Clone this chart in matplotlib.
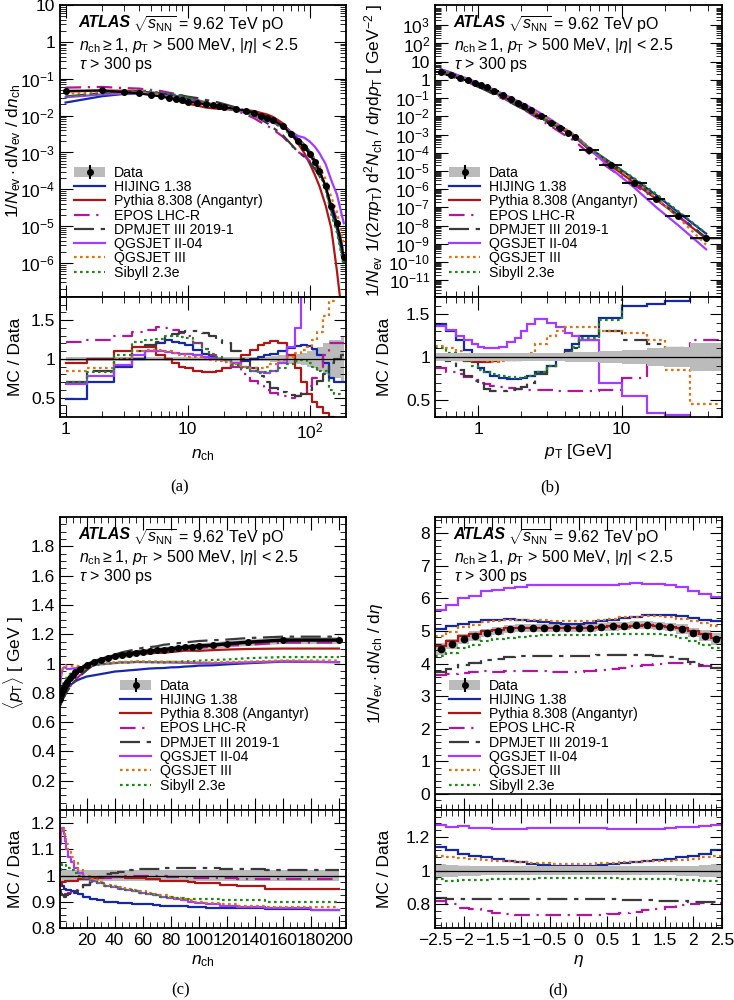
import numpy as np
import matplotlib
matplotlib.use("Agg")
import matplotlib.pyplot as plt
from matplotlib.ticker import FuncFormatter, FixedLocator, AutoMinorLocator, LogLocator, NullFormatter

plt.rcParams['font.family'] = ['Liberation Sans', 'DejaVu Sans']
plt.rcParams['mathtext.fontset'] = 'custom'
plt.rcParams['mathtext.rm'] = 'Liberation Sans'
plt.rcParams['mathtext.it'] = 'Liberation Sans:italic'
plt.rcParams['mathtext.bf'] = 'Liberation Sans:bold'

models = ['HIJING 1.38', 'Pythia 8.308 (Angantyr)', 'EPOS LHC-R', 'DPMJET III 2019-1',
          'QGSJET II-04', 'QGSJET III', 'Sibyll 2.3e']
colors = ['#1428a8', '#b01515', '#b0179e', '#3a3a3a', '#a23cff', '#e0720f', '#1b8a1b']
styles = ['-', '-', (0, (7, 3, 1, 3)), (0, (9, 3, 2, 3)), '-', (0, (1.2, 1.5)), (0, (1.2, 1.5))]

# ---- (a) multiplicity ----
nch_a = [1, 2, 3, 4, 5, 6, 7, 8, 9, 10, 12, 14, 16, 18, 20, 25, 30, 35, 40, 45, 50, 60, 70, 80,
         90, 100, 110, 120, 135, 150, 167, 190]
data_a = [0.047, 0.048, 0.043, 0.040, 0.036, 0.033, 0.030, 0.028, 0.026, 0.024, 0.022, 0.020,
          0.019, 0.018, 0.017, 0.015, 0.0135, 0.0118, 0.010, 0.0088, 0.0075, 0.0052, 0.0032,
          0.0020, 0.0014, 0.0009, 0.00055, 0.00032, 0.00012, 3.5e-5, 1.2e-5, 1.5e-6]
err_a = [0.03] * 20 + [0.04, 0.05, 0.06, 0.07, 0.08, 0.1, 0.12, 0.15, 0.2, 0.25, 0.25, 0.3]
ratio_a = [
    [0.48, 0.7, 0.9, 1.0, 1.1, 1.2, 1.25, 1.22, 1.2, 1.18, 1.12, 1.07, 1.03, 1.0, 0.98, 0.95, 0.97,
     1.0, 1.03, 1.05, 1.07, 1.1, 1.14, 1.17, 1.18, 1.17, 1.13, 1.05, 0.95, 0.75, 0.7, 0.7],
    [0.95, 1.0, 1.1, 1.15, 1.15, 1.05, 1.0, 0.95, 0.9, 0.88, 0.85, 0.83, 0.83, 0.85, 0.88, 0.95,
     1.05, 1.12, 1.18, 1.21, 1.23, 1.2, 1.05, 0.88, 0.7, 0.55, 0.45, 0.38, 0.3, 0.25, 0.05, 0.01],
    [1.22, 1.25, 1.3, 1.35, 1.38, 1.41, 1.4, 1.38, 1.33, 1.3, 1.2, 1.13, 1.05, 1.0, 0.96, 0.9, 0.8,
     0.72, 0.65, 0.6, 0.56, 0.52, 0.5, 0.52, 0.58, 0.65, 0.75, 0.9, 1.05, 1.2, 1.2, 1.2],
    [0.7, 0.85, 1.0, 1.1, 1.18, 1.22, 1.28, 1.32, 1.35, 1.36, 1.36, 1.33, 1.3, 1.25, 1.2, 1.1, 1.0,
     0.88, 0.78, 0.7, 0.63, 0.57, 0.53, 0.52, 0.55, 0.6, 0.65, 0.72, 0.8, 0.95, 1.0, 1.05],
    [0.67, 0.78, 0.92, 1.05, 1.1, 1.1, 1.09, 1.08, 1.07, 1.06, 1.05, 1.03, 1.01, 1.0, 0.98, 0.95,
     0.9, 0.85, 0.83, 0.82, 0.85, 0.95, 1.15, 1.4, 1.8, 2.2, 2.6, 3.0, 4.0, 5.0, 6.0, 8.0],
    [0.85, 0.88, 1.0, 1.1, 1.12, 1.12, 1.1, 1.08, 1.05, 1.03, 1.02, 1.0, 0.98, 0.97, 0.96, 0.93,
     0.9, 0.88, 0.88, 0.9, 0.93, 0.98, 1.03, 1.08, 1.12, 1.15, 1.25, 1.35, 1.55, 1.75, 2.0, 2.2],
    [0.7, 0.83, 1.05, 1.22, 1.25, 1.26, 1.3, 1.3, 1.28, 1.27, 1.2, 1.13, 1.07, 1.02, 0.98, 0.92,
     0.88, 0.84, 0.82, 0.83, 0.85, 0.88, 0.93, 0.97, 0.98, 0.95, 0.9, 0.85, 0.85, 0.6, 0.55, 0.55],
]

# ---- (b) pT spectrum ----
pt_edges = [0.5, 0.6, 0.7, 0.8, 0.9, 1.0, 1.1, 1.2, 1.4, 1.6, 1.8, 2.0, 2.2, 2.5, 3.0, 3.5, 4.0,
            4.5, 5.0, 7.0, 10, 15, 20, 30, 50]
data_b = [2.8, 1.9, 1.3, 0.95, 0.7, 0.52, 0.4, 0.26, 0.15, 0.09, 0.055, 0.036, 0.021, 0.010,
          0.0045, 0.0022, 0.0012, 0.0007, 1.5e-4, 2.0e-5, 2.2e-6, 3e-7, 3.5e-8, 2e-9]
err_b = [0.05] * 12 + [0.05, 0.05, 0.05, 0.05, 0.06, 0.06, 0.06, 0.07, 0.08, 0.1, 0.12, 0.16]
ratio_b = [
    [1.38, 1.3, 1.2, 1.08, 0.95, 0.87, 0.82, 0.78, 0.75, 0.74, 0.74, 0.75, 0.78, 0.82, 0.9, 1.0,
     1.08, 1.15, 1.25, 1.45, 1.6, 1.62, 1.65, 1.8],
    [1.0, 0.98, 0.96, 0.95, 0.94, 0.94, 0.94, 0.95, 0.96, 0.97, 0.97, 0.98, 0.98, 0.99, 0.99, 1.0,
     1.0, 1.0, 1.01, 1.0, 1.01, 0.99, 0.97, 0.96],
    [0.87, 0.83, 0.8, 0.77, 0.73, 0.7, 0.68, 0.66, 0.65, 0.64, 0.63, 0.63, 0.62, 0.62, 0.61, 0.6,
     0.6, 0.6, 0.6, 0.62, 0.75, 0.95, 1.0, 1.2],
    [1.0, 0.95, 0.85, 0.78, 0.72, 0.68, 0.63, 0.6, 0.6, 0.62, 0.63, 0.65, 0.7, 0.8, 0.9, 1.0, 1.06,
     1.1, 1.2, 1.3, 1.2, 1.15, 1.1, 1.08],
    [1.36, 1.32, 1.25, 1.2, 1.15, 1.12, 1.1, 1.1, 1.12, 1.17, 1.22, 1.3, 1.38, 1.44, 1.4, 1.35,
     1.28, 1.24, 1.2, 0.7, 0.55, 0.35, 0.32, 0.25],
    [1.13, 1.1, 1.07, 1.03, 0.98, 0.96, 0.95, 0.94, 0.95, 0.96, 0.98, 1.0, 1.05, 1.15, 1.25, 1.3,
     1.35, 1.35, 1.35, 1.3, 1.28, 1.2, 0.85, 0.45],
    [1.1, 1.05, 1.0, 0.95, 0.9, 0.85, 0.82, 0.8, 0.78, 0.77, 0.76, 0.77, 0.78, 0.82, 0.9, 0.98,
     1.05, 1.12, 1.22, 1.43, 1.8, 1.9, 1.9, 1.9],
]

# ---- (c) mean pT vs nch ----
nch_c = [1, 2, 3, 4, 5, 6, 8, 10, 12, 15, 20, 25, 30, 35, 40, 45, 50, 55, 60, 65, 70, 75, 80, 85,
         90, 95, 100, 110, 120, 135, 160, 200]
data_c = [0.76, 0.79, 0.82, 0.84, 0.86, 0.875, 0.90, 0.92, 0.94, 0.96, 0.99, 1.01, 1.025, 1.04,
          1.05, 1.06, 1.065, 1.075, 1.08, 1.085, 1.09, 1.095, 1.10, 1.105, 1.11, 1.115, 1.12,
          1.125, 1.135, 1.145, 1.16, 1.16]
err_c = [0.02] * 32
ratio_c = [
    [0.97, 0.97, 0.96, 0.95, 0.95, 0.945, 0.945, 0.94, 0.935, 0.93, 0.92, 0.91, 0.905, 0.9, 0.9,
     0.895, 0.895, 0.89, 0.89, 0.89, 0.888, 0.885, 0.885, 0.882, 0.882, 0.88, 0.88, 0.878, 0.876,
     0.875, 0.873, 0.87],
    [0.96, 0.97, 0.975, 0.975, 0.98, 0.98, 0.98, 0.98, 0.98, 0.985, 0.985, 0.99, 0.99, 0.995,
     0.995, 0.995, 0.99, 0.99, 0.99, 0.985, 0.985, 0.98, 0.98, 0.98, 0.98, 0.975, 0.97, 0.97,
     0.965, 0.96, 0.95, 0.95],
    [0.93, 0.93, 0.925, 0.925, 0.93, 0.93, 0.935, 0.94, 0.945, 0.955, 0.965, 0.975, 0.985, 0.99,
     0.995, 1.0, 1.0, 1.0, 1.0, 1.0, 1.0, 1.0, 0.995, 0.995, 0.995, 0.99, 0.99, 0.99, 0.99, 0.985,
     0.985, 0.985],
    [0.94, 0.93, 0.925, 0.92, 0.92, 0.925, 0.93, 0.935, 0.94, 0.95, 0.965, 0.98, 0.995, 1.005,
     1.01, 1.015, 1.02, 1.02, 1.025, 1.025, 1.025, 1.03, 1.03, 1.03, 1.03, 1.03, 1.03, 1.03,
     1.025, 1.025, 1.02, 1.02],
    [1.12, 1.17, 1.18, 1.16, 1.13, 1.1, 1.07, 1.05, 1.03, 1.01, 0.99, 0.98, 0.97, 0.96, 0.955,
     0.95, 0.945, 0.94, 0.935, 0.93, 0.925, 0.92, 0.915, 0.91, 0.905, 0.9, 0.895, 0.89, 0.885,
     0.88, 0.875, 0.87],
    [1.15, 1.18, 1.18, 1.17, 1.15, 1.12, 1.09, 1.07, 1.05, 1.02, 1.0, 0.985, 0.975, 0.965, 0.96,
     0.955, 0.95, 0.945, 0.94, 0.935, 0.93, 0.925, 0.92, 0.915, 0.91, 0.905, 0.9, 0.895, 0.89,
     0.885, 0.88, 0.88],
    [1.02, 1.04, 1.045, 1.045, 1.04, 1.035, 1.03, 1.02, 1.01, 1.0, 0.99, 0.98, 0.97, 0.96, 0.955,
     0.95, 0.945, 0.94, 0.935, 0.93, 0.925, 0.92, 0.92, 0.915, 0.915, 0.91, 0.91, 0.91, 0.905,
     0.905, 0.9, 0.9],
]

# ---- (d) dN/deta ----
eta_edges = np.linspace(-2.5, 2.5, 26)
data_d = [4.45, 4.6, 4.75, 4.85, 4.95, 5.0, 5.05, 5.08, 5.1, 5.1, 5.1, 5.1, 5.1, 5.1, 5.12, 5.14,
          5.16, 5.18, 5.18, 5.16, 5.12, 5.05, 4.95, 4.85, 4.75]
err_d = [0.04, 0.035, 0.03, 0.03, 0.025, 0.025, 0.025, 0.025, 0.025, 0.025, 0.025, 0.025, 0.025,
         0.025, 0.025, 0.025, 0.025, 0.025, 0.025, 0.025, 0.025, 0.03, 0.03, 0.035, 0.04]
ratio_d = [
    [1.14, 1.12, 1.1, 1.09, 1.08, 1.07, 1.06, 1.05, 1.04, 1.035, 1.03, 1.025, 1.025, 1.03, 1.035,
     1.04, 1.045, 1.05, 1.06, 1.065, 1.07, 1.08, 1.09, 1.1, 1.12],
    [1.02, 1.02, 1.02, 1.01, 1.01, 1.005, 1.005, 1.0, 1.0, 1.0, 1.0, 1.0, 1.0, 1.0, 1.0, 1.0,
     0.995, 0.995, 1.0, 1.0, 1.0, 1.005, 1.01, 1.01, 1.01],
    [0.82, 0.8, 0.78, 0.77, 0.76, 0.75, 0.745, 0.74, 0.74, 0.74, 0.735, 0.735, 0.735, 0.74, 0.74,
     0.745, 0.75, 0.755, 0.765, 0.775, 0.785, 0.795, 0.805, 0.81, 0.81],
    [0.84, 0.835, 0.83, 0.83, 0.83, 0.83, 0.83, 0.83, 0.83, 0.83, 0.83, 0.83, 0.83, 0.83, 0.83,
     0.83, 0.825, 0.825, 0.825, 0.82, 0.82, 0.82, 0.815, 0.815, 0.815],
    [1.27, 1.26, 1.265, 1.255, 1.255, 1.25, 1.25, 1.25, 1.255, 1.255, 1.255, 1.255, 1.255, 1.255,
     1.255, 1.25, 1.25, 1.248, 1.245, 1.25, 1.255, 1.26, 1.26, 1.265, 1.27],
    [1.09, 1.08, 1.075, 1.07, 1.065, 1.06, 1.055, 1.05, 1.045, 1.045, 1.04, 1.04, 1.04, 1.04,
     1.045, 1.045, 1.05, 1.05, 1.055, 1.06, 1.06, 1.065, 1.07, 1.08, 1.085],
    [0.95, 0.94, 0.945, 0.945, 0.945, 0.95, 0.95, 0.95, 0.95, 0.955, 0.955, 0.955, 0.955, 0.955,
     0.955, 0.955, 0.95, 0.95, 0.95, 0.95, 0.95, 0.945, 0.945, 0.94, 0.94],
]

FS = 12.5
fig = plt.figure(figsize=(7.34, 10), dpi=100)
W, H = 734., 1000.


def make_axes(left, top, split, bottom, right):
    am = fig.add_axes([left / W, 1 - split / H, (right - left) / W, (split - top) / H])
    ar = fig.add_axes([left / W, 1 - bottom / H, (right - left) / W, (bottom - split) / H], sharex=am)
    for a in (am, ar):
        a.tick_params(which='both', direction='in', top=True, right=True, labelsize=FS)
        a.tick_params(which='major', length=9)
        a.tick_params(which='minor', length=4.5)
        for s in a.spines.values():
            s.set_linewidth(1.3)
    plt.setp(am.get_xticklabels(), visible=False)
    ar.set_ylabel('MC / Data', fontsize=FS)
    return am, ar


def atlas_label(ax):
    ax.text(0.065, 0.965, 'ATLAS', transform=ax.transAxes, fontsize=11.5, fontweight='bold',
            style='italic', va='top')
    ax.text(0.255, 0.965, r'$\sqrt{s_{\mathrm{NN}}}$ = 9.62 TeV pO', transform=ax.transAxes,
            fontsize=11.5, va='top')
    ax.text(0.065, 0.895, r'$n_{\mathrm{ch}} \geq 1$, $p_{\mathrm{T}}$ > 500 MeV, $|\eta|$ < 2.5',
            transform=ax.transAxes, fontsize=11.5, va='top')
    ax.text(0.065, 0.83, r'$\tau$ > 300 ps', transform=ax.transAxes, fontsize=11.5, va='top')


def legend(ax, x0):
    h = [ax.errorbar([], [], yerr=[], fmt='o', color='k', ms=4, lw=1.5)]
    hb = plt.Rectangle((0, 0), 1, 1, fc='#bbbbbb', ec='none')
    handles = [(hb, h[0])] + [plt.Line2D([], [], color=c, ls=s, lw=1.6)
                              for c, s in zip(colors, styles)]
    ax.legend(handles, ['Data'] + models, loc='lower left', bbox_to_anchor=(x0, 0.04),
              frameon=False, fontsize=10.2, labelspacing=0.02, handlelength=2.2,
              handletextpad=0.6, borderaxespad=0)


def log_fmt(v, pos):
    e = int(round(np.log10(v)))
    if e == 0:
        return '1'
    if e == 1:
        return '10'
    return r'$10^{%d}$' % e


# ---------------- panel (a)
am, ar = make_axes(60, 5, 297, 417, 346)
x = np.array(nch_a)
d = np.array(data_a)
e = np.array(err_a)
am.fill_between(x, d * (1 - e), d * (1 + e), color='#bbbbbb', lw=0)
for r, c, s in zip(ratio_a, colors, styles):
    am.plot(x, d * np.array(r), color=c, ls=s, lw=1.6)
    ar.step(x, r, where='mid', color=c, ls=s, lw=1.6)
am.plot(x, d, color='k', lw=1.5)
am.plot(x, d, 'o', color='k', ms=4)
ar.fill_between(x, 1 - e, 1 + e, color='#bbbbbb', lw=0, step='mid')
ar.axhline(1, color='k', lw=0.9)
am.set_xscale('log')
am.set_yscale('log')
am.set_xlim(0.9, 198)
am.set_ylim(1.2e-7, 10)
am.yaxis.set_major_locator(LogLocator(base=10, numticks=20))
am.yaxis.set_major_formatter(FuncFormatter(log_fmt))
am.yaxis.set_minor_locator(LogLocator(base=10, subs=np.arange(2, 10), numticks=20))
am.yaxis.set_minor_formatter(NullFormatter())
ar.set_ylim(0.25, 1.8)
ar.yaxis.set_major_locator(FixedLocator([0.5, 1, 1.5]))
ar.yaxis.set_major_formatter(FuncFormatter(lambda v, p: '%g' % v))
ar.yaxis.set_minor_locator(AutoMinorLocator(5))
ar.xaxis.set_major_formatter(FuncFormatter(log_fmt))
ar.xaxis.set_minor_formatter(NullFormatter())
am.set_ylabel(r'$1/N_{\mathrm{ev}}\cdot\mathrm{d}N_{\mathrm{ev}}$ / d$n_{\mathrm{ch}}$', fontsize=FS)
ar.set_xlabel(r'$n_{\mathrm{ch}}$', fontsize=FS)
am.yaxis.set_label_coords(-0.13, 0.5)
ar.yaxis.set_label_coords(-0.13, 0.5)
atlas_label(am)
legend(am, 0.03)

# ---------------- panel (b)
am, ar = make_axes(435, 5, 297, 417, 722)
ed = np.array(pt_edges)
xc = np.sqrt(ed[:-1] * ed[1:])
d = np.array(data_b)
e = np.array(err_b)
am.stairs(d * (1 + e), ed, baseline=d * (1 - e), fill=True, color='#bbbbbb', lw=0)
for r, c, s in zip(ratio_b, colors, styles):
    am.plot(xc, d * np.array(r), color=c, ls=s, lw=1.6)
    ar.stairs(r, ed, color=c, ls=s, lw=1.6, baseline=None)
am.errorbar(xc, d, xerr=[xc - ed[:-1], ed[1:] - xc], fmt='o', color='k', ms=4, lw=1.3)
ar.stairs(1 + e, ed, baseline=1 - e, fill=True, color='#bbbbbb', lw=0)
ar.axhline(1, color='k', lw=0.9)
am.set_xscale('log')
am.set_yscale('log')
am.set_xlim(0.5, 50)
am.set_ylim(1.2e-12, 1.3e4)
am.yaxis.set_major_locator(FixedLocator([10.0 ** k for k in range(-11, 4)]))
am.yaxis.set_major_formatter(FuncFormatter(log_fmt))
am.yaxis.set_minor_locator(LogLocator(base=10, subs=np.arange(2, 10), numticks=30))
am.yaxis.set_minor_formatter(NullFormatter())
ar.set_ylim(0.3, 1.7)
ar.yaxis.set_major_locator(FixedLocator([0.5, 1, 1.5]))
ar.yaxis.set_major_formatter(FuncFormatter(lambda v, p: '%g' % v))
ar.yaxis.set_minor_locator(AutoMinorLocator(5))
ar.xaxis.set_major_formatter(FuncFormatter(log_fmt))
ar.xaxis.set_minor_formatter(NullFormatter())
am.set_ylabel(r'$1/N_{\mathrm{ev}}$ $1/(2\pi p_{\mathrm{T}})$ d$^2N_{\mathrm{ch}}$ / d$\eta$d$p_{\mathrm{T}}$ [ GeV$^{-2}$ ]',
              fontsize=FS)
ar.set_xlabel(r'$p_{\mathrm{T}}$ [GeV]', fontsize=FS)
am.yaxis.set_label_coords(-0.175, 0.5)
ar.yaxis.set_label_coords(-0.15, 0.5)
atlas_label(am)
legend(am, 0.03)

# ---------------- panel (c)
am, ar = make_axes(60, 517, 810, 928, 346)
x = np.array(nch_c)
d = np.array(data_c)
e = np.array(err_c)
am.fill_between(x, d * (1 - e), d * (1 + e), color='#bbbbbb', lw=0)
for r, c, s in zip(ratio_c, colors, styles):
    am.plot(x, d * np.array(r), color=c, ls=s, lw=1.6)
    ar.step(x, r, where='mid', color=c, ls=s, lw=1.6)
am.plot(x, d, color='k', lw=2.5)
am.plot(x, d, 'o', color='k', ms=4)
ar.fill_between(x, 1 - e, 1 + e, color='#bbbbbb', lw=0, step='mid')
ar.axhline(1, color='k', lw=0.9)
am.set_xlim(1, 205)
am.set_ylim(0, 2)
am.yaxis.set_major_locator(FixedLocator([0.2, 0.4, 0.6, 0.8, 1.0, 1.2, 1.4, 1.6, 1.8]))
am.yaxis.set_major_formatter(FuncFormatter(lambda v, p: '%g' % v))
am.yaxis.set_minor_locator(AutoMinorLocator(4))
am.xaxis.set_major_locator(FixedLocator(list(range(20, 201, 20))))
am.xaxis.set_minor_locator(AutoMinorLocator(4))
ar.set_ylim(0.8, 1.25)
ar.yaxis.set_major_locator(FixedLocator([0.8, 0.9, 1.0, 1.1, 1.2]))
ar.yaxis.set_major_formatter(FuncFormatter(lambda v, p: '%g' % v))
ar.yaxis.set_minor_locator(AutoMinorLocator(4))
am.set_ylabel(r'$\langle p_{\mathrm{T}}\rangle$ [ GeV ]', fontsize=FS)
ar.set_xlabel(r'$n_{\mathrm{ch}}$', fontsize=FS)
am.yaxis.set_label_coords(-0.12, 0.5)
ar.yaxis.set_label_coords(-0.13, 0.5)
atlas_label(am)
legend(am, 0.19)

# ---------------- panel (d)
am, ar = make_axes(435, 517, 810, 928, 722)
ed = np.array(eta_edges)
xc = 0.5 * (ed[:-1] + ed[1:])
d = np.array(data_d)
e = np.array(err_d)
am.stairs(d * (1 + e), ed, baseline=d * (1 - e), fill=True, color='#bbbbbb', lw=0)
for r, c, s in zip(ratio_d, colors, styles):
    am.stairs(d * np.array(r), ed, color=c, ls=s, lw=1.6, baseline=None)
    ar.stairs(r, ed, color=c, ls=s, lw=1.6, baseline=None)
am.plot(xc, d, 'o', color='k', ms=4.5)
am.axhline(0, color='k', lw=1.2)
ar.stairs(1 + e, ed, baseline=1 - e, fill=True, color='#bbbbbb', lw=0)
ar.axhline(1, color='k', lw=0.9)
am.set_xlim(-2.5, 2.5)
am.set_ylim(-0.5, 8.5)
am.yaxis.set_major_locator(FixedLocator(list(range(0, 9))))
am.yaxis.set_minor_locator(AutoMinorLocator(5))
am.xaxis.set_major_locator(FixedLocator(list(np.arange(-2.5, 2.51, 0.5))))
am.xaxis.set_minor_locator(AutoMinorLocator(5))
ar.xaxis.set_major_formatter(FuncFormatter(lambda v, p: ('%g' % v).replace('-', '\u2212')))
ar.set_ylim(0.66, 1.36)
ar.yaxis.set_major_locator(FixedLocator([0.8, 1.0, 1.2]))
ar.yaxis.set_major_formatter(FuncFormatter(lambda v, p: '%g' % v))
ar.yaxis.set_minor_locator(AutoMinorLocator(5))
am.set_ylabel(r'$1/N_{\mathrm{ev}}\cdot\mathrm{d}N_{\mathrm{ch}}$ / d$\eta$', fontsize=FS)
ar.set_xlabel(r'$\eta$', fontsize=FS)
am.yaxis.set_label_coords(-0.175, 0.5)
ar.yaxis.set_label_coords(-0.15, 0.5)
atlas_label(am)
legend(am, 0.03)

for txt, xx, yy in [('(a)', 180, 487), ('(b)', 550, 487), ('(c)', 181, 990), ('(d)', 558, 990)]:
    fig.text(xx / W, 1 - yy / H, txt, ha='center', va='center', fontsize=12,
             family='Liberation Serif')

fig.savefig('out.png', dpi=100)
